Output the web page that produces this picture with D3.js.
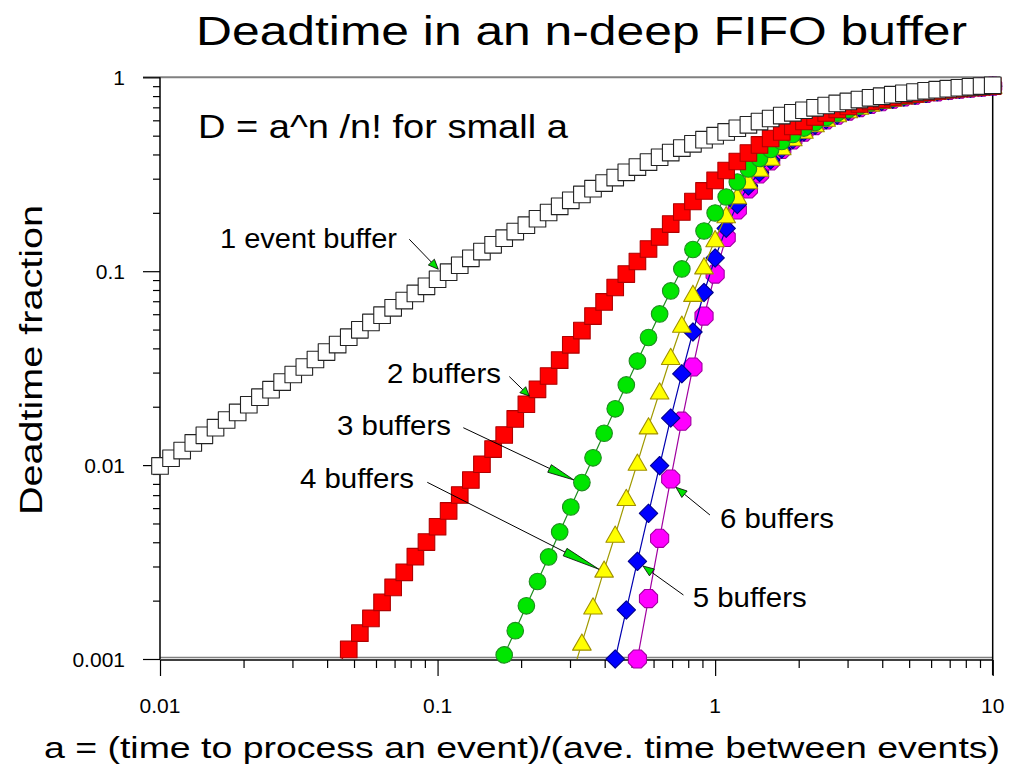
<!DOCTYPE html>
<html lang="en">
<head>
<meta charset="utf-8"/>
<title>Deadtime in an n-deep FIFO buffer</title>
<script src="https://d3js.org/d3.v7.min.js"></script>
<style>
body { margin: 0; background: #fff; }
text { font-family: "Liberation Sans", Arial, sans-serif; fill: #000; }
.tick-label { font-size: 21px; }
.note { font-size: 28px; }
</style>
</head>
<body>
<div id="chart"></div>
<script>
// a = (time to process an event)/(ave. time between events), 25 points per decade
var aValues = [
  0.01, 0.01096, 0.01202, 0.01318, 0.01445, 0.01585, 0.01738, 0.01905, 0.02089, 0.02291,
  0.02512, 0.02754, 0.03020, 0.03311, 0.03631, 0.03981, 0.04365, 0.04786, 0.05248, 0.05754,
  0.06310, 0.06918, 0.07586, 0.08318, 0.09120, 0.1, 0.1096, 0.1202, 0.1318, 0.1445,
  0.1585, 0.1738, 0.1905, 0.2089, 0.2291, 0.2512, 0.2754, 0.3020, 0.3311, 0.3631,
  0.3981, 0.4365, 0.4786, 0.5248, 0.5754, 0.6310, 0.6918, 0.7586, 0.8318, 0.9120,
  1, 1.096, 1.202, 1.318, 1.445, 1.585, 1.738, 1.905, 2.089, 2.291,
  2.512, 2.754, 3.020, 3.311, 3.631, 3.981, 4.365, 4.786, 5.248, 5.754,
  6.310, 6.918, 7.586, 8.318, 9.120, 10
];

// deadtime fraction per buffer depth; each series starts at index start of aValues
var buf1Start = 0;
var buf1 = [
  0.0099, 0.01085, 0.01188, 0.01301, 0.01425, 0.01560, 0.01708, 0.01870, 0.02047, 0.02240,
  0.02450, 0.02680, 0.02932, 0.03205, 0.03504, 0.03829, 0.04183, 0.04568, 0.04986, 0.05441,
  0.05935, 0.06471, 0.07051, 0.07679, 0.08358, 0.09091, 0.09881, 0.1073, 0.1165, 0.1263,
  0.1368, 0.1481, 0.1601, 0.1728, 0.1864, 0.2008, 0.2160, 0.2320, 0.2488, 0.2664,
  0.2848, 0.3039, 0.3237, 0.3442, 0.3653, 0.3869, 0.4089, 0.4314, 0.4541, 0.4770,
  0.5, 0.5230, 0.5459, 0.5687, 0.5911, 0.6131, 0.6347, 0.6558, 0.6763, 0.6961,
  0.7153, 0.7336, 0.7512, 0.7680, 0.7840, 0.7992, 0.8136, 0.8272, 0.8400, 0.8519,
  0.8632, 0.8737, 0.8835, 0.8927, 0.9012, 0.9091
];
var buf2Start = 16;
var buf2 = [
  0.00093, 0.00112, 0.00136, 0.00162, 0.00196, 0.00234, 0.00280, 0.00337, 0.00401, 0.00481,
  0.00580, 0.00701, 0.00838, 0.0101, 0.0121, 0.0143, 0.0173, 0.0206, 0.0246, 0.0288,
  0.0348, 0.0417, 0.0494, 0.0587, 0.0694, 0.0824, 0.0967, 0.1122, 0.1302, 0.1501,
  0.1751, 0.2020, 0.2288, 0.2593, 0.2937, 0.3307, 0.3680, 0.4070, 0.4477, 0.4835,
  0.5223, 0.5574, 0.5916, 0.6242, 0.6545, 0.6823, 0.7070, 0.7283, 0.7502, 0.7682,
  0.7866, 0.8060, 0.8215, 0.8370, 0.8510, 0.8630, 0.8735, 0.8835, 0.8928, 0.9015
];
var buf3Start = 30;
var buf3 = [
  0.00078, 0.00105, 0.00140, 0.00188, 0.00251, 0.00336, 0.00452, 0.00608, 0.00813, 0.0109,
  0.0146, 0.0195, 0.0259, 0.0344, 0.0455, 0.0602, 0.0791, 0.1027, 0.1294, 0.1612,
  0.1996, 0.2414, 0.2884, 0.3365, 0.3813, 0.4243, 0.4666, 0.5070, 0.5475, 0.5847,
  0.6205, 0.6545, 0.6823, 0.7112, 0.7370, 0.7592, 0.7790, 0.7975, 0.8150, 0.8305,
  0.8450, 0.8582, 0.8702, 0.8813, 0.8915, 0.9010
];
var buf4Start = 37;
var buf4 = [
  0.00078, 0.00121, 0.00186, 0.00288, 0.00436, 0.00674, 0.01025, 0.01578, 0.0239, 0.0360,
  0.0528, 0.0761, 0.1055, 0.1457, 0.1938, 0.2428, 0.2901, 0.3365, 0.3836, 0.4345,
  0.4835, 0.5285, 0.5709, 0.6095, 0.6428, 0.6741, 0.7027, 0.7283, 0.7519, 0.7735,
  0.7930, 0.8110, 0.8275, 0.8425, 0.8562, 0.8687, 0.8801, 0.8906, 0.9002
];
var buf5Start = 40;
var buf5 = [
  0.000556, 0.00100, 0.00179, 0.00319, 0.00564, 0.00993, 0.01749, 0.02958, 0.04858, 0.07766,
  0.1170, 0.1665, 0.2208, 0.2750, 0.3228, 0.3746, 0.4268, 0.4777, 0.5235, 0.5662,
  0.6051, 0.6398, 0.6709, 0.6995, 0.7258, 0.7500, 0.7718, 0.7918, 0.8100, 0.8268,
  0.8420, 0.8558, 0.8685, 0.8800, 0.8905, 0.9001
];
var buf6Start = 42;
var buf6 = [
  0.000479, 0.00100, 0.00205, 0.00419, 0.00848, 0.01684, 0.03205, 0.0587, 0.0967, 0.1492,
  0.2068, 0.2654, 0.3171, 0.3701, 0.4243, 0.4749, 0.5211, 0.5640, 0.6025, 0.6374,
  0.6693, 0.6984, 0.7249, 0.7491, 0.7712, 0.7913, 0.8097, 0.8264, 0.8416, 0.8556,
  0.8683, 0.8799, 0.8904, 0.9001
];

var xTickValues = [0.01, 0.1, 1, 10];
var xTickLabels = ["0.01", "0.1", "1", "10"];
var yTickValues = [0.001, 0.01, 0.1, 1];
var yTickLabels = ["0.001", "0.01", "0.1", "1"];

// labels and arrows placed in data coordinates (a, D)
var noteTexts = ["1 event buffer", "2 buffers", "3 buffers", "4 buffers", "5 buffers", "6 buffers"];
var noteAt = [[0.01645, 0.1313], [0.06572, 0.02651], [0.04341, 0.01429], [0.03193, 0.007592], [0.8299, 0.001861], [1.0406, 0.004721]];
var arrowFrom = [[0.0791, 0.1461], [0.1813, 0.02863], [0.1238, 0.01559], [0.09181, 0.008152], [0.7688, 0.002138], [0.9579, 0.005529]];
var arrowTo = [[0.1006, 0.1023], [0.2139, 0.02272], [0.3100, 0.008378], [0.3815, 0.002902], [0.5495, 0.003017], [0.7225, 0.007683]];
var arrowHead = [10, 9, 27, 38, 11, 11];

var w = 1015;
var h = 773;

var svg = d3.select("#chart")
            .append("svg")
            .attr("width", w)
            .attr("height", h);

var xScale = d3.scaleLog().domain([0.01, 10]).range([160, 992.7]);
var yScale = d3.scaleLog().domain([0.001, 1]).range([659, 77.3]);

var x0 = xScale.range()[0], x1 = xScale.range()[1];
var yBot = yScale.range()[0], yTop = yScale.range()[1];

// frame lines
svg.append("line").attr("x1", 143).attr("x2", 1000).attr("y1", yTop).attr("y2", yTop)
   .attr("stroke", "#808080").attr("stroke-width", 2);
svg.append("line").attr("x1", x0).attr("x2", x1).attr("y1", yBot - 1.5).attr("y2", yBot - 1.5)
   .attr("stroke", "#808080").attr("stroke-width", 1.5);

// axes
var xAxis = d3.axisBottom(xScale)
              .tickValues([0.01, 0.02, 0.03, 0.04, 0.05, 0.06, 0.07, 0.08, 0.09,
                           0.1, 0.2, 0.3, 0.4, 0.5, 0.6, 0.7, 0.8, 0.9,
                           1, 2, 3, 4, 5, 6, 7, 8, 9, 10])
              .tickSize(8)
              .tickFormat("");
var gx = svg.append("g")
   .attr("transform", "translate(0," + (yBot + 1) + ")")
   .call(xAxis);

var yAxis = d3.axisLeft(yScale)
              .tickValues([0.001, 0.002, 0.003, 0.004, 0.005, 0.006, 0.007, 0.008, 0.009,
                           0.01, 0.02, 0.03, 0.04, 0.05, 0.06, 0.07, 0.08, 0.09,
                           0.1, 0.2, 0.3, 0.4, 0.5, 0.6, 0.7, 0.8, 0.9, 1])
              .tickSize(7)
              .tickFormat("");
var gy = svg.append("g")
   .attr("transform", "translate(" + x0 + ",0)")
   .call(yAxis);

[gx, gy].forEach(function(g){
   g.select(".domain").attr("stroke", "#000").attr("stroke-width", 1.5);
   g.selectAll(".tick line").attr("stroke", "#000").attr("stroke-width", 1.2);
});
gx.select(".domain").attr("d", "M" + x0 + ",0H" + x1);
gy.select(".domain").attr("d", "M0," + yBot + "V" + yTop);
// major ticks are longer
gx.selectAll(".tick line").filter(function(d){ return xTickValues.indexOf(d) >= 0; }).attr("y2", 16);
gy.selectAll(".tick line").filter(function(d){ return yTickValues.indexOf(d) >= 0; }).attr("x2", -17);

// right axis
svg.append("line").attr("x1", x1).attr("x2", x1).attr("y1", yTop).attr("y2", yBot + 16)
   .attr("stroke", "#000").attr("stroke-width", 1.5);

// tick labels
svg.selectAll(".xlab")
   .data(xTickValues)
   .enter().append("text")
   .attr("class", "tick-label")
   .attr("x", function(d){ return xScale(d); })
   .attr("y", 713)
   .attr("text-anchor", "middle")
   .text(function(d, i){ return xTickLabels[i]; });

svg.selectAll(".ylab")
   .data(yTickValues)
   .enter().append("text")
   .attr("class", "tick-label")
   .attr("x", 125)
   .attr("y", function(d){ return yScale(d) + 7.5; })
   .attr("text-anchor", "end")
   .text(function(d, i){ return yTickLabels[i]; });

// titles
svg.append("text")
   .attr("x", 196).attr("y", 45)
   .attr("font-size", 40)
   .attr("textLength", 771).attr("lengthAdjust", "spacingAndGlyphs")
   .text("Deadtime in an n-deep FIFO buffer");

svg.append("text")
   .attr("x", 44).attr("y", 758)
   .attr("font-size", 30)
   .attr("textLength", 956).attr("lengthAdjust", "spacingAndGlyphs")
   .text("a = (time to process an event)/(ave. time between events)");

svg.append("text")
   .attr("transform", "translate(42,360) rotate(-90)")
   .attr("text-anchor", "middle")
   .attr("font-size", 31)
   .attr("textLength", 310).attr("lengthAdjust", "spacingAndGlyphs")
   .text("Deadtime fraction");

svg.append("text")
   .attr("x", xScale(0.0137)).attr("y", yScale(0.4844))
   .attr("font-size", 33)
   .attr("textLength", 370).attr("lengthAdjust", "spacingAndGlyphs")
   .text("D = a^n /n! for small a");

// marker shapes
var shapes = {
   square: function(){ return "M-8.3,-8.3H8.3V8.3H-8.3Z"; },
   circle: function(){ return d3.arc()({innerRadius: 0, outerRadius: 8.3, startAngle: 0, endAngle: 2 * Math.PI}); },
   triangle: function(){ return "M0,-9L9.3,7.2H-9.3Z"; },
   diamond: function(){ return "M0,-9.2L9.2,0L0,9.2L-9.2,0Z"; },
   octagon: function(){
      var pts = d3.range(8).map(function(i){
         var t = Math.PI / 8 + i * Math.PI / 4;
         return [9.8 * Math.cos(t), 9.8 * Math.sin(t)];
      });
      return "M" + pts.join("L") + "Z";
   }
};

var seriesList = [
   {values: buf6, start: buf6Start, shape: "octagon", fill: "#ff00ff", stroke: "#a000a0", line: "#a000a0"},
   {values: buf5, start: buf5Start, shape: "diamond", fill: "#0000ff", stroke: "#00008b", line: "#0000b0"},
   {values: buf4, start: buf4Start, shape: "triangle", fill: "#ffff00", stroke: "#a09000", line: "#a09a00"},
   {values: buf3, start: buf3Start, shape: "circle", fill: "#00e600", stroke: "#1e8c1e", line: "#1e8c1e"},
   {values: buf2, start: buf2Start, shape: "square", fill: "#ff0000", stroke: "#b00000", line: "#b00000"},
   {values: buf1, start: buf1Start, shape: "square", fill: "#ffffff", stroke: "#222222", line: "#222222"}
];

svg.append("clipPath").attr("id", "plotClip")
   .append("rect").attr("x", x0).attr("y", yTop).attr("width", x1 - x0).attr("height", yBot - yTop);

var line = d3.line()
             .x(function(d){ return xScale(d.a); })
             .y(function(d){ return yScale(d.v); });

seriesList.forEach(function(s){
   var pts = s.values.map(function(v, i){ return {a: aValues[s.start + i], v: v}; });
   svg.append("path")
      .datum(pts)
      .attr("clip-path", "url(#plotClip)")
      .attr("fill", "none")
      .attr("stroke", s.line)
      .attr("stroke-width", 1.2)
      .attr("d", line);

   svg.append("g")
      .selectAll("path")
      .data(pts.filter(function(d){ return d.v >= 0.00099 && d.v <= 1; }))
      .enter().append("path")
      .attr("transform", function(d){ return "translate(" + xScale(d.a) + "," + yScale(d.v) + ")"; })
      .attr("d", shapes[s.shape]())
      .attr("fill", s.fill)
      .attr("stroke", s.stroke)
      .attr("stroke-width", 1.1)
      .attr("stroke-linejoin", "round");
});

// annotations with green arrowheads
noteTexts.forEach(function(t, i){
   svg.append("text")
      .attr("class", "note")
      .attr("x", xScale(noteAt[i][0]))
      .attr("y", yScale(noteAt[i][1]))
      .attr("textLength", i === 0 ? 177 : 114)
      .attr("lengthAdjust", "spacingAndGlyphs")
      .text(t);

   var sx = xScale(arrowFrom[i][0]), sy = yScale(arrowFrom[i][1]);
   var tx = xScale(arrowTo[i][0]), ty = yScale(arrowTo[i][1]);
   var len = Math.sqrt((tx - sx) * (tx - sx) + (ty - sy) * (ty - sy));
   var ux = (tx - sx) / len, uy = (ty - sy) / len;
   var L = arrowHead[i], hw = 4.2;
   var bx = tx - ux * L, by = ty - uy * L;

   svg.append("line")
      .attr("x1", sx).attr("y1", sy).attr("x2", bx).attr("y2", by)
      .attr("stroke", "#000").attr("stroke-width", 1);

   svg.append("path")
      .attr("d", "M" + tx + "," + ty +
                 "L" + (bx - uy * hw) + "," + (by + ux * hw) +
                 "L" + (bx + uy * hw) + "," + (by - ux * hw) + "Z")
      .attr("fill", "#00e000")
      .attr("stroke", "#000")
      .attr("stroke-width", 0.8);
});
</script>
</body>
</html>
